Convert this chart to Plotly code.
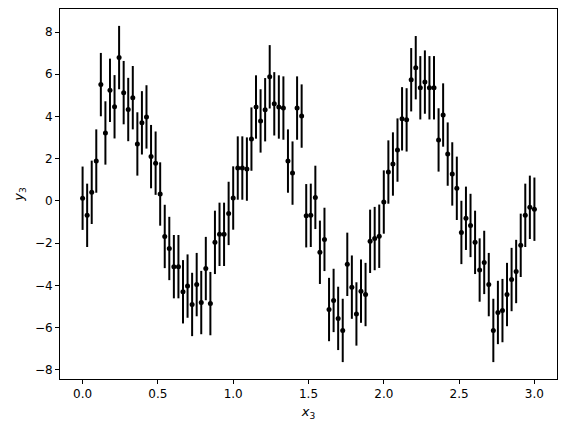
import numpy as np
import plotly.graph_objects as go

x3 = np.linspace(0, 3, 100)
y3 = [
    0.13, -0.68, 0.41, 1.89, 5.51, 3.22, 5.24, 4.46, 6.79, 5.13,
    4.33, 4.89, 2.70, 3.70, 3.98, 2.10, 1.79, 0.33, -1.68, -2.25,
    -3.11, -3.11, -4.30, -4.03, -4.90, -3.96, -4.81, -3.20, -4.86, -1.96,
    -1.58, -1.58, -0.59, 0.14, 1.56, 1.56, 1.51, 2.93, 4.45, 3.79,
    4.32, 5.88, 4.60, 4.45, 4.40, 1.89, 1.32, 4.40, 4.02, -0.70,
    -0.68, 0.17, -2.43, -1.82, -5.14, -4.71, -5.56, -6.13, -3.00, -4.08,
    -5.35, -4.27, -4.43, -1.91, -1.78, -1.67, -0.05, 1.37, 1.75, 2.41,
    3.89, 3.84, 5.74, 6.31, 5.36, 5.63, 5.36, 5.36, 2.89, 4.07,
    2.22, 1.28, 0.60, -1.49, -0.82, -1.16, -1.96, -3.27, -2.91, -3.96,
    -6.13, -5.28, -5.19, -4.43, -3.72, -3.34, -2.10, -0.68, -0.30, -0.39,
]
dy = [1.5] * len(y3)

xticks = [0.0, 0.5, 1.0, 1.5, 2.0, 2.5, 3.0]
yticks = [-8, -6, -4, -2, 0, 2, 4, 6, 8]

fig = go.Figure()
fig.add_trace(go.Scatter(
    x=x3, y=y3, mode="markers",
    marker=dict(color="black", size=5),
    error_y=dict(type="data", array=dy, visible=True, color="black",
                 thickness=2, width=0),
    showlegend=False,
))

axis_common = dict(
    showgrid=False, zeroline=False, showline=True, linecolor="black",
    linewidth=1, mirror=True, ticks="outside", ticklen=4, tickwidth=1,
    tickcolor="black", tickfont=dict(family="DejaVu Sans", size=12, color="black"),
)
fig.update_xaxes(range=[-0.15, 3.15], tickvals=xticks,
                 ticktext=[f"{v:.1f}" for v in xticks],
                 title=dict(text="<i>x</i><sub>3</sub>", standoff=6,
                            font=dict(family="DejaVu Sans", size=13, color="black")),
                 **axis_common)
fig.update_yaxes(range=[-8.43, 9.09], tickvals=yticks,
                 title=dict(text="<i>y</i><sub>3</sub>", standoff=8,
                            font=dict(family="DejaVu Sans", size=13, color="black")),
                 **axis_common)
fig.update_layout(
    width=566, height=432,
    margin=dict(l=60, r=9, t=9, b=53),
    plot_bgcolor="white", paper_bgcolor="white",
)
fig.write_html("out.html")
